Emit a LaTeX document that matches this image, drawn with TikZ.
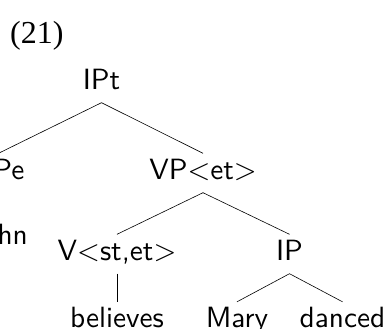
\documentclass[tikz,border=0pt]{standalone}
\usepackage{fontspec}
\newfontfamily\exnumfont{Liberation Serif}
\newfontfamily\treefont[Extension=.otf]{lmsans10-regular}
\begin{document}
\begin{tikzpicture}[x=1pt,y=-1pt,
  exnum/.style={font=\exnumfont\fontsize{32}{38}\selectfont, anchor=base west, inner sep=0pt},
  cat/.style={font=\treefont\fontsize{29.3}{35}\selectfont, anchor=base,
    inner xsep=0pt, inner ysep=5pt, text height=20.5pt, text depth=8.5pt},
  branch/.style={line width=0.6pt}]
  \useasboundingbox (0,0) rectangle (386,329);
  \clip (0,0) rectangle (386,329);

  % example number
  \node[exnum] (exnum) at (10,44) {(21)};

  % tree nodes
  \node[cat] (ipt)      at (101.5,89)  {IPt};
  \node[cat] (npe)      at (-1.5,179)  {NPe};
  \node[cat] (vp)       at (203,179)   {VP<et>};
  \node[cat] (john)     at (-1.5,244)  {John};
  \node[cat] (v)        at (117,260)   {V<st,et>};
  \node[cat] (ip)       at (289.5,260) {IP};
  \node[cat] (believes) at (117,327.5) {believes};
  \node[cat] (mary)     at (237,327.5) {Mary};
  \node[cat] (danced)   at (342.5,327.5) {danced};

  % branches
  \draw[branch] (ipt.south) -- (npe.north);
  \draw[branch] (ipt.south) -- (vp.north);
  \draw[branch] (npe.south) -- (john.north);
  \draw[branch] (vp.south)  -- (v.north);
  \draw[branch] (vp.south)  -- (ip.north);
  \draw[branch] (v.south)   -- (believes.north);
  \draw[branch] (ip.south)  -- (mary.north);
  \draw[branch] (ip.south)  -- (danced.north);
\end{tikzpicture}
\end{document}
